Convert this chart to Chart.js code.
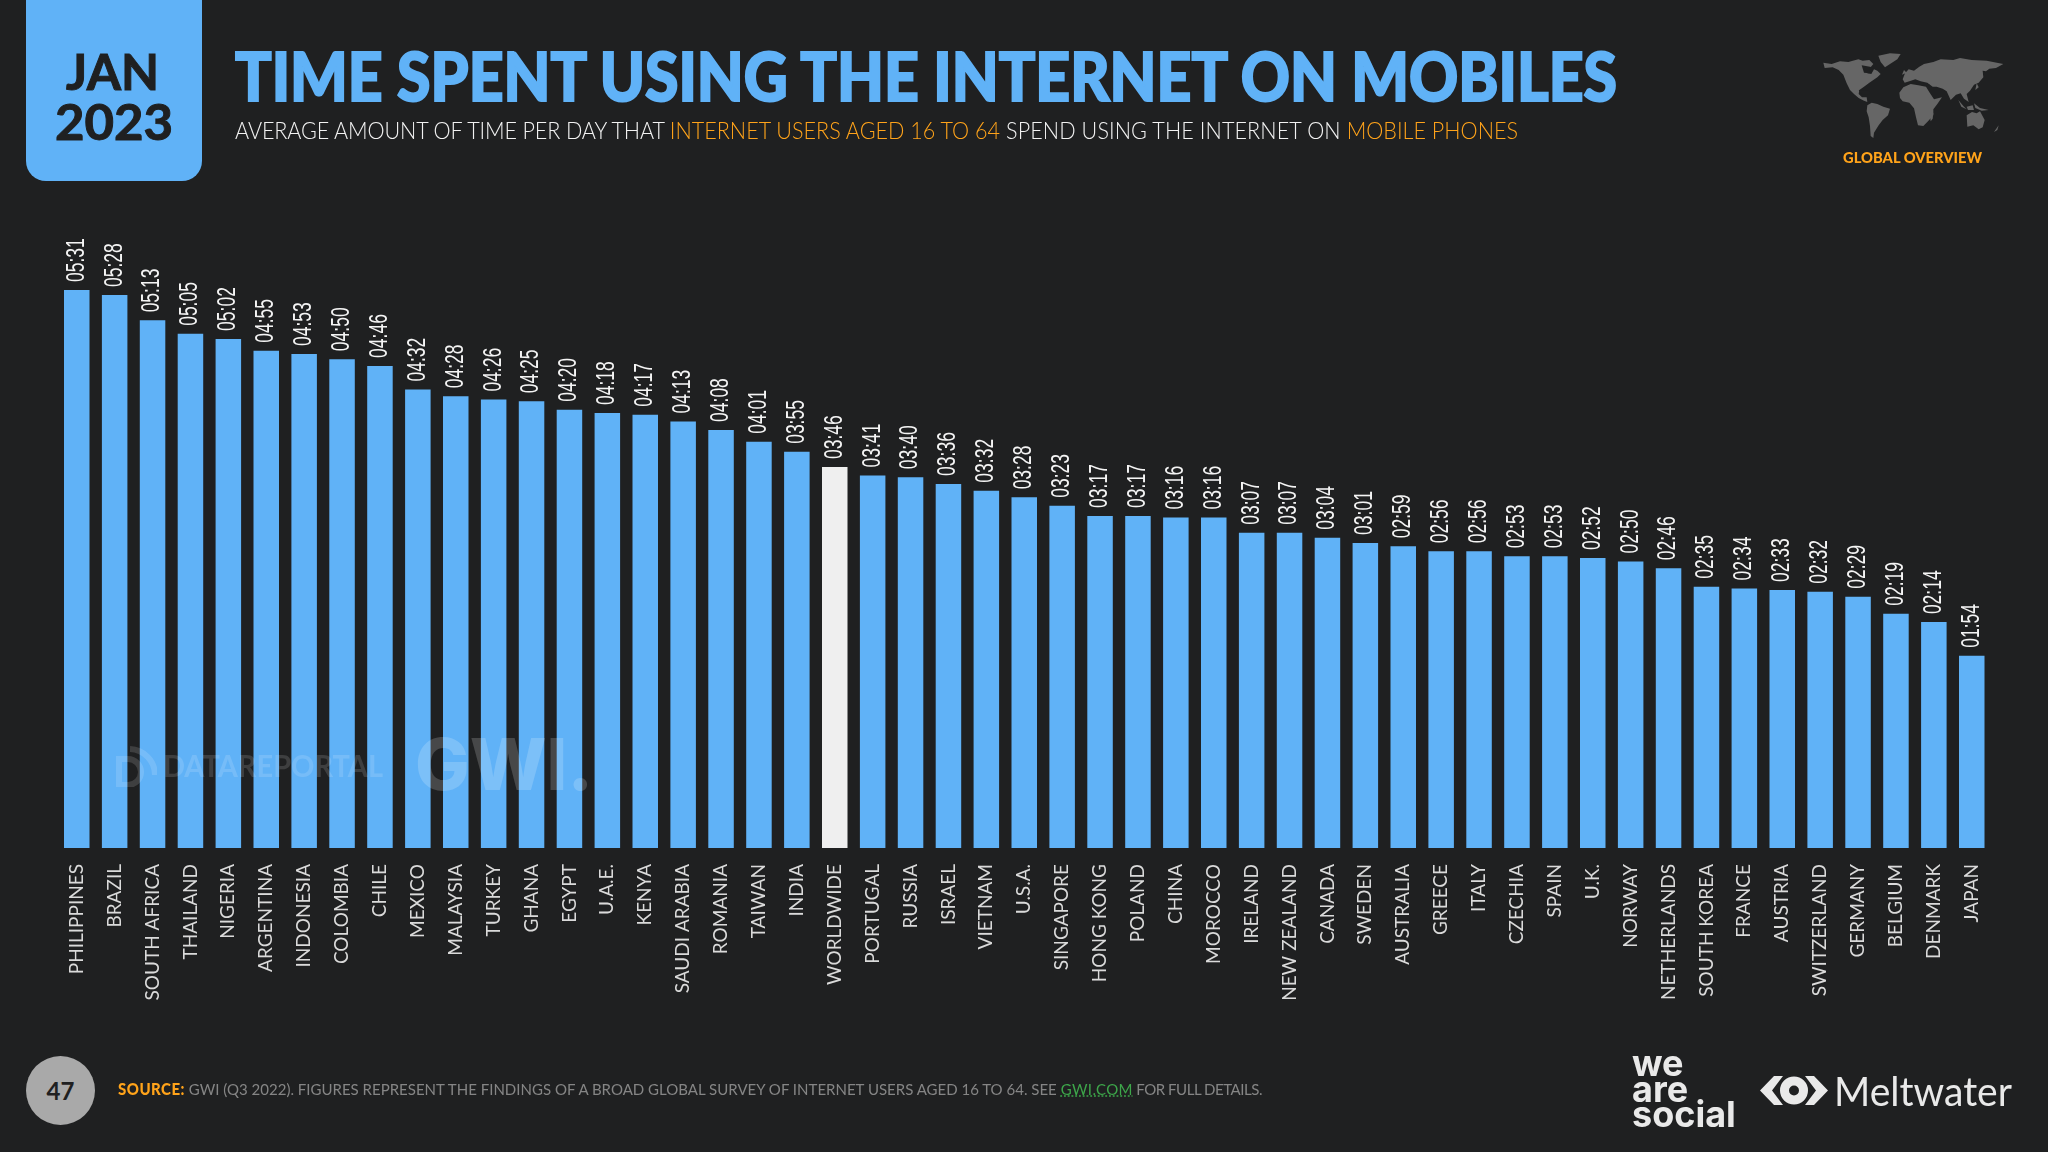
<!DOCTYPE html>
<html>
<head>
<meta charset="utf-8">
<title>Time spent using the internet on mobiles</title>
<script src="https://cdn.jsdelivr.net/npm/chart.js@4"></script>
<style>
  html, body { margin: 0; padding: 0; background: #1f2021; }
  #page { position: relative; width: 2048px; height: 1152px; overflow: hidden; background: #1f2021; font-family: Lato, sans-serif; }
  #page > * { position: absolute; }
  canvas { left: 0; top: 0; }
  .fit { white-space: nowrap; transform-origin: 0 50%; line-height: 1; }
  #dateBox { left: 26px; top: -20px; width: 176px; height: 201px; background: #60b2f7; border-radius: 20px; }
  #jan, #year { color: #1f2021; font-weight: 700; font-size: 50px; -webkit-text-stroke: 1px #1f2021; }
  #title { left: 235px; top: 43px; color: #60b2f7; font-weight: 900; font-size: 66px; -webkit-text-stroke: 2px #60b2f7; }
  #sub { left: 235px; top: 118px; color: #f2f2f2; font-weight: 300; font-size: 24px; }
  .or { color: #ffa31a; }
  #region { left: 1843px; top: 150px; color: #ffa31a; font-weight: 900; font-size: 15.5px; }
  #map { left: 1790px; top: 40px; }
  #pageNo { left: 26px; top: 1056px; width: 69px; height: 69px; border-radius: 50%; background: #a9a9a9; color: #1f2021; font-weight: 700; font-size: 24px; line-height: 69px; text-align: center; }
  #source { left: 118px; top: 1081px; color: #858585; font-size: 16px; font-weight: 400; }
  #source b { color: #ffa31a; font-weight: 900; letter-spacing: 0.5px; }
  #source u { color: #3da64a; text-decoration: underline dotted; letter-spacing: 0.4px; }
  #we { left: 1632px; top: 1051px; color: #e9e9e9; font-family: Inter, sans-serif; font-weight: 700; font-size: 36px; line-height: 25.5px; }
  #melt { left: 1834px; top: 1070px; color: #e9e9e9; font-family: Lato, sans-serif; font-weight: 400; font-size: 41px; }
  #eye { left: 1760px; top: 1076px; }
  #wmData { left: 163px; top: 750px; color: rgba(255,255,255,0.14); font-family: Lato, sans-serif; font-weight: 700; font-size: 31px; }
  #wmGwi { left: 415px; top: 728px; color: rgba(255,255,255,0.18); font-family: Inter, sans-serif; font-weight: 800; font-size: 72px; }
  #wmIcon { left: 115px; top: 745px; }
</style>
</head>
<body>
<div id="page">
  <canvas id="chart" width="2048" height="1152"></canvas>

  <svg id="wmIcon" width="42" height="42" viewBox="0 0 42 42" fill="none" stroke="rgba(255,255,255,0.14)">
    <path d="M4 14 H13 A13 13 0 0 1 13 40 H4 Z" stroke-width="6"/>
    <path d="M15 4 A26 26 0 0 1 40 30" stroke-width="6"/>
  </svg>
  <div id="wmData" class="fit" data-w="220">DATAREPORTAL</div>
  <div id="wmGwi" class="fit" data-w="178">GWI.</div>

  <div id="dateBox"></div>
  <div id="jan" class="fit" data-w="93" style="left:66px;top:46px">JAN</div>
  <div id="year" class="fit" data-w="118" style="left:55px;top:96px">2023</div>
  <div id="title" class="fit" data-w="1382">TIME SPENT USING THE INTERNET ON MOBILES</div>
  <div id="sub" class="fit" data-w="1283"><span style="letter-spacing:-0.15px">AVERAGE AMOUNT OF TIME PER DAY THAT </span><span class="or">INTERNET USERS AGED 16 TO 64</span><span style="letter-spacing:0.1px"> SPEND USING THE INTERNET ON </span><span class="or">MOBILE PHONES</span></div>

  <svg id="map" width="240" height="130" viewBox="0 0 720 390" fill="#666">
    <path d="M100 68 125 72 150 64 175 66 205 58 218 62 238 60 250 72 243 80 228 84 232 100 244 102 252 88 262 92 272 102 262 112 250 120 238 128 222 140 208 150 206 162 216 172 230 172 232 186 222 182 206 174 192 162 180 150 170 130 160 104 146 90 128 82 104 84Z"/>
    <path d="M265 47 300 40 332 42 322 58 300 72 285 82 272 66Z"/>
    <path d="M232 196 245 188 262 192 280 200 300 206 294 226 278 240 266 256 252 278 250 294 242 288 240 258 236 232 230 214Z"/>
    <path d="M328 158 340 142 362 132 385 136 408 140 420 160 432 178 456 172 442 192 430 208 430 226 414 244 400 258 384 256 378 232 372 205 358 188 338 184 330 174Z"/>
    <path d="M338 118 345 100 356 88 372 92 388 80 402 72 430 66 452 58 490 60 510 54 545 60 590 62 640 72 618 84 598 86 588 94 578 92 580 112 566 128 552 134 540 152 530 162 536 186 522 176 512 160 498 164 482 180 470 154 458 146 440 140 428 140 412 128 392 124 376 118 358 124 344 128Z"/>
    <path d="M530 226 546 216 560 220 570 214 584 240 578 262 566 268 550 256 532 260Z"/>
    <path d="M420 228 430 218 428 236 422 244Z"/>
    <path d="M612 276 626 256 622 270Z"/>
    <path d="M505 180 522 200 530 208 514 200Z"/>
    <path d="M530 200 548 196 552 210 534 210Z"/>
    <path d="M552 190 570 204 596 210 575 212 556 204Z"/>
    <path d="M556 150 560 130 566 142Z"/>
    <path d="M336 104 342 90 350 98Z"/>
    <path d="M215 76 240 80 238 100 222 98Z" fill="#1f2021"/>
    <path d="M360 128 390 126 420 134 405 138 380 132Z" fill="#1f2021"/>
    <path d="M206 150 236 152 240 164 216 164Z" fill="#1f2021"/>
  </svg>
  <div id="region" class="fit" data-w="139">GLOBAL OVERVIEW</div>

  <div id="pageNo">47</div>
  <div id="source" class="fit" data-w="1144"><b>SOURCE:</b> GWI (Q3 2022). FIGURES REPRESENT THE FINDINGS OF A BROAD GLOBAL SURVEY OF INTERNET USERS AGED 16 TO 64. SEE <u>GWI.COM</u><span style="letter-spacing:-0.5px"> FOR FULL DETAILS.</span></div>

  <div id="we">we<br>are<br>social</div>
  <svg id="eye" width="68" height="29" viewBox="0 0 68 29" fill="#e9e9e9">
    <path d="M14 0H23L12 14.500 23 29H14L0 14.500Z"/>
    <path d="M54 0H45L56 14.500 45 29H54L68 14.500Z"/>
    <circle cx="34" cy="14.500" r="9.500" fill="none" stroke="#e9e9e9" stroke-width="9"/>
  </svg>
  <div id="melt" class="fit" data-w="178">Meltwater</div>
</div>

<script>
const countries = ['PHILIPPINES','BRAZIL','SOUTH AFRICA','THAILAND','NIGERIA','ARGENTINA','INDONESIA','COLOMBIA','CHILE','MEXICO','MALAYSIA','TURKEY','GHANA','EGYPT','U.A.E.','KENYA','SAUDI ARABIA','ROMANIA','TAIWAN','INDIA','WORLDWIDE','PORTUGAL','RUSSIA','ISRAEL','VIETNAM','U.S.A.','SINGAPORE','HONG KONG','POLAND','CHINA','MOROCCO','IRELAND','NEW ZEALAND','CANADA','SWEDEN','AUSTRALIA','GREECE','ITALY','CZECHIA','SPAIN','U.K.','NORWAY','NETHERLANDS','SOUTH KOREA','FRANCE','AUSTRIA','SWITZERLAND','GERMANY','BELGIUM','DENMARK','JAPAN'];
const timeLabels = ['05:31','05:28','05:13','05:05','05:02','04:55','04:53','04:50','04:46','04:32','04:28','04:26','04:25','04:20','04:18','04:17','04:13','04:08','04:01','03:55','03:46','03:41','03:40','03:36','03:32','03:28','03:23','03:17','03:17','03:16','03:16','03:07','03:07','03:04','03:01','02:59','02:56','02:56','02:53','02:53','02:52','02:50','02:46','02:35','02:34','02:33','02:32','02:29','02:19','02:14','01:54'];
// minutes per day, same order as the labels above
const minutes = [331,328,313,305,302,295,293,290,286,272,268,266,265,260,258,257,253,248,241,235,226,221,220,216,212,208,203,197,197,196,196,187,187,184,181,179,176,176,173,173,172,170,166,155,154,153,152,149,139,134,114];

const BLUE = '#60b2f7';
const WHITE_BAR = '#efefef';

// squeeze header and footer text to the widths of the slide
document.querySelectorAll('.fit').forEach(el => {
    const w = el.getBoundingClientRect().width;
    el.style.transform = `scaleX(${el.dataset.w / w})`;
});

// vertical value labels above each bar
const barLabels = {
    id: 'barLabels',
    afterDatasetsDraw(chart) {
        const ctx = chart.ctx;
        const bars = chart.getDatasetMeta(0).data;
        ctx.save();
        ctx.fillStyle = '#f4f4f4';
        ctx.font = "25px 'Liberation Sans'";
        ctx.textAlign = 'left';
        ctx.textBaseline = 'middle';
        bars.forEach((bar, i) => {
            ctx.save();
            ctx.translate(bar.x, bar.y - 8);
            ctx.rotate(-Math.PI / 2);
            ctx.scale(0.7, 1);
            ctx.fillText(timeLabels[i], 0, 0);
            ctx.restore();
        });
        ctx.restore();
    }
};

new Chart(document.getElementById('chart'), {
    type: 'bar',
    data: {
        labels: countries,
        datasets: [{
            data: minutes,
            backgroundColor: countries.map(c => c === 'WORLDWIDE' ? WHITE_BAR : BLUE),
            barPercentage: 0.673,
            categoryPercentage: 1
        }]
    },
    options: {
        responsive: false,
        animation: false,
        layout: { padding: { left: 57.8, right: 57.3, top: 258, bottom: 0 } },
        plugins: { legend: { display: false }, tooltip: { enabled: false } },
        scales: {
            x: {
                grid: { display: false },
                border: { display: false },
                afterFit: s => { s.height = 304; },
                ticks: {
                    autoSkip: false,
                    minRotation: 90,
                    maxRotation: 90,
                    padding: 8,
                    color: '#dadada',
                    font: { family: 'Lato', size: 19 }
                }
            },
            y: { display: false, min: 0, max: 350 }
        }
    },
    plugins: [barLabels]
});
</script>
</body>
</html>
